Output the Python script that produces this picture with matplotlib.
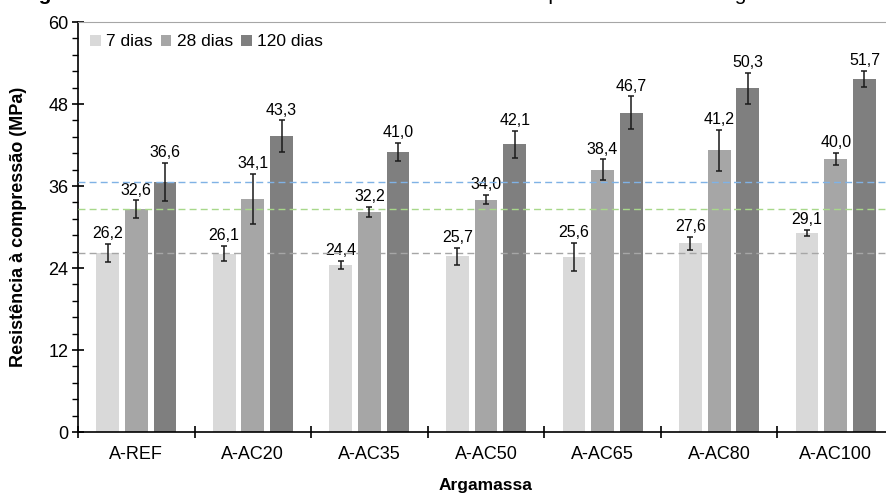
import numpy as np
import matplotlib
matplotlib.use("Agg")
import matplotlib.pyplot as plt
from matplotlib.ticker import MultipleLocator

plt.rcParams['font.family'] = ['Liberation Sans', 'DejaVu Sans']

# dados
argamassas = ['A-REF', 'A-AC20', 'A-AC35', 'A-AC50', 'A-AC65', 'A-AC80', 'A-AC100']
idades = ['7 dias', '28 dias', '120 dias']
r7 = [26.2, 26.1, 24.4, 25.7, 25.6, 27.6, 29.1]
r28 = [32.6, 34.1, 32.2, 34.0, 38.4, 41.2, 40.0]
r120 = [36.6, 43.3, 41.0, 42.1, 46.7, 50.3, 51.7]
dp7 = [1.3, 1.1, 0.6, 1.3, 2.1, 0.9, 0.45]
dp28 = [1.3, 3.7, 0.8, 0.65, 1.5, 3.0, 0.9]
dp120 = [2.75, 2.3, 1.35, 2.0, 2.4, 2.3, 1.2]

cores = ['#d9d9d9', '#a6a6a6', '#7f7f7f']
cores_ref = ['#a6a6a6', '#a8d88a', '#7fb2e5']

fig = plt.figure(figsize=(8.87, 4.94), dpi=100)
ax = fig.add_axes([78 / 887, 62 / 494, 816 / 887, 410 / 494])

x = np.arange(len(argamassas))
passo = 0.246
larg = 0.195

for i, (vals, dps) in enumerate([(r7, dp7), (r28, dp28), (r120, dp120)]):
    pos = x + (i - 1) * passo
    ax.bar(pos, vals, width=larg, color=cores[i], label=idades[i], zorder=2)
    ax.errorbar(pos, vals, yerr=dps, fmt='none', ecolor='#1a1a1a', elinewidth=1.1,
                capsize=2.3, capthick=1.1, zorder=4)
    for p, v, d in zip(pos, vals, dps):
        ax.annotate(f'{v:.1f}'.replace('.', ','), (p, v + d), xytext=(0, 2),
                    textcoords='offset points', ha='center', va='bottom', fontsize=11.5)

# linhas de referência (A-REF)
for v, c in zip([r7[0], r28[0], r120[0]], cores_ref):
    ax.axhline(v, color=c, lw=1, ls=(0, (5, 3)), zorder=3)

ax.set_xlim(-0.5, 6.5)
ax.set_ylim(0, 60)

ax.yaxis.set_major_locator(MultipleLocator(12))
ax.yaxis.set_minor_locator(MultipleLocator(2.4))
ax.tick_params(axis='y', which='major', direction='inout', length=8, width=1.2, labelsize=13, pad=3)
ax.tick_params(axis='y', which='minor', direction='out', length=4, width=1)

ax.set_xticks(np.arange(-0.5, 7, 1))
ax.set_xticklabels([])
ax.set_xticks(x, minor=True)
ax.set_xticklabels(argamassas, minor=True)
ax.tick_params(axis='x', which='major', direction='inout', length=9, width=1.2)
ax.tick_params(axis='x', which='minor', length=0, labelsize=13, pad=10)

ax.spines['right'].set_visible(False)
ax.spines['top'].set_color('#a6a6a6')
ax.spines['left'].set_linewidth(1.2)
ax.spines['bottom'].set_linewidth(1.2)

ax.set_xlabel('Argamassa', fontsize=12.5, fontweight='bold', labelpad=11)
ax.set_ylabel('Resistência à compressão (MPa)', fontsize=13, fontweight='bold', labelpad=15)

ax.legend(loc='upper left', ncol=3, frameon=False, fontsize=12.5, handlelength=0.6,
          handleheight=0.6, handletextpad=0.3, columnspacing=0.5, borderaxespad=0.3,
          bbox_to_anchor=(0.0, 1.0))

# título cortado no topo da imagem
fig.text(20 / 887, 1.0, 'Figura 37', fontsize=15, fontweight='bold', va='baseline')
fig.text(112 / 887, 1.0,
         '– Resultados dos ensaios de resistência à compressão axial das argamassas',
         fontsize=15, va='baseline')

fig.savefig('out.png', dpi=100)
